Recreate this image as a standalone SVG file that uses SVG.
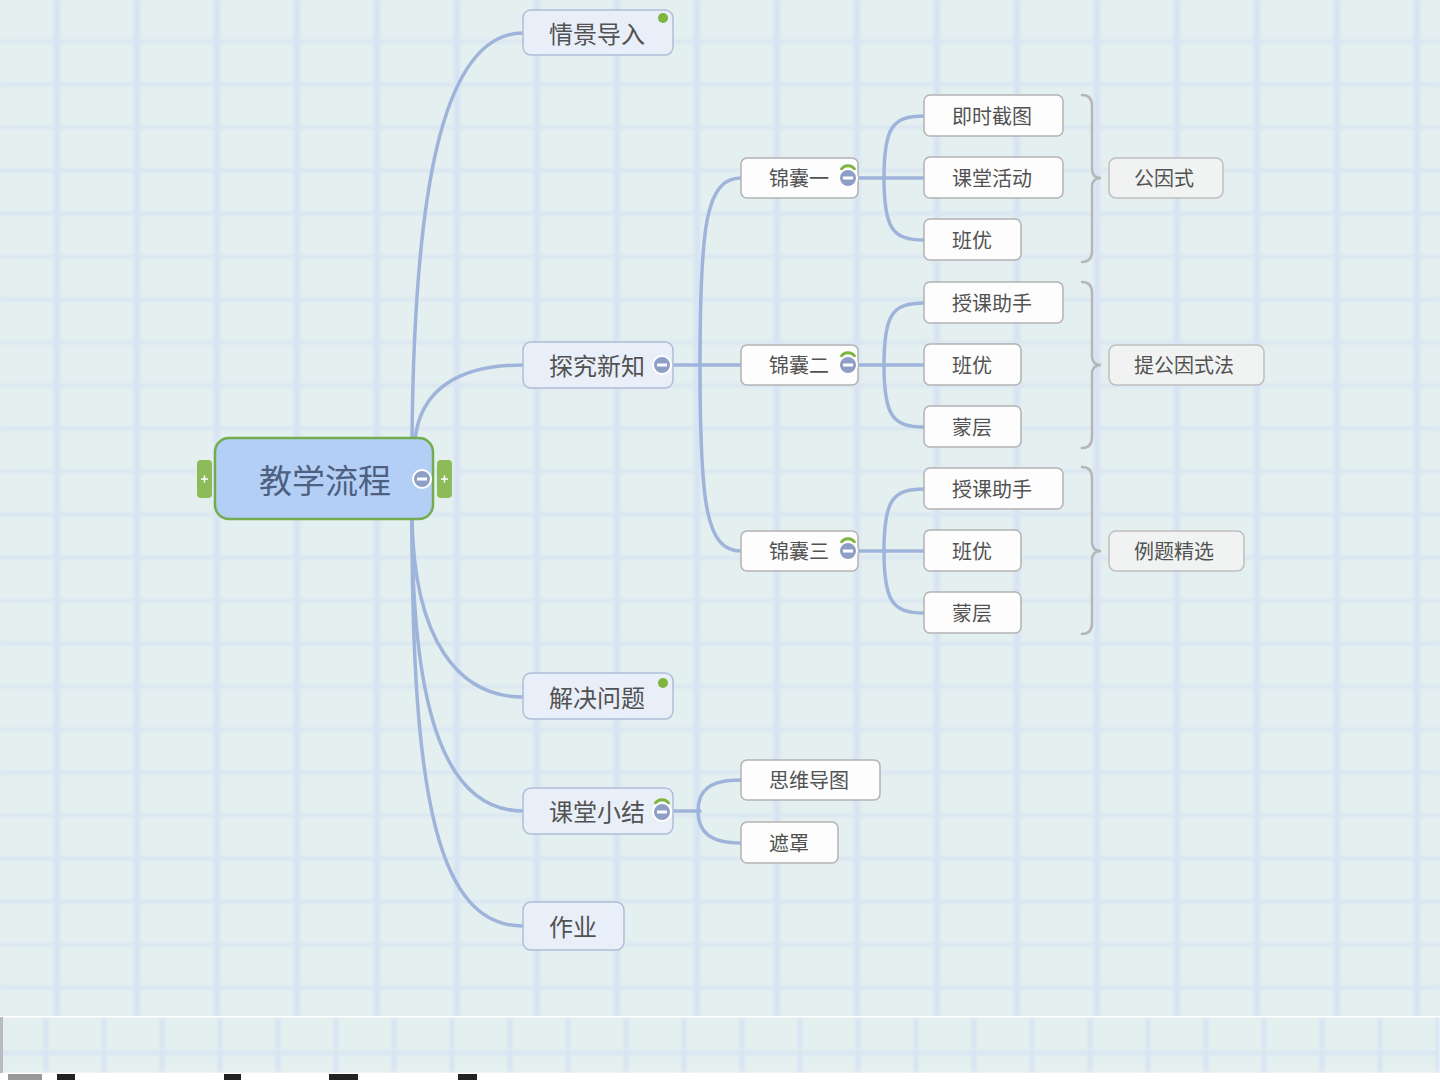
<svg xmlns="http://www.w3.org/2000/svg" width="1440" height="1080" viewBox="0 0 1440 1080">
<style>
.t{font-family:"Noto Sans CJK SC","Noto Sans",sans-serif;fill:#525252;}
.l1 rect{fill:#e9eff9;stroke:#aebdd8;stroke-width:1.5;}
.l2 rect{fill:#fdfdfd;stroke:#b3b3b3;stroke-width:1.5;}
.sm rect{fill:#f1f2f2;stroke:#bfbfbf;stroke-width:1.5;}
.c{fill:none;stroke:#9fb4da;stroke-width:3.5;stroke-linecap:round;}
.br{fill:none;stroke:#b4b6ba;stroke-width:2.5;stroke-linecap:round;}
.dot{fill:#7db53f;}
.arc{fill:none;stroke:#7db53f;stroke-width:3;}
</style>
<defs>
<filter id="soft" x="0" y="0" width="1" height="1"><feGaussianBlur stdDeviation="1.8"/></filter>
<pattern id="grid" x="0" y="0" width="80" height="43" patternUnits="userSpaceOnUse">
<rect width="80" height="43" fill="#e4eff0"/>
<rect x="54" y="0" width="6" height="43" fill="#d5e3f3"/>
<rect x="0" y="40" width="80" height="5" fill="#d8e4f2"/>
</pattern>
<pattern id="grid2" x="0" y="1017" width="58" height="55" patternUnits="userSpaceOnUse">
<rect width="58" height="55" fill="#e4eff0"/>
<rect x="44" y="0" width="4" height="55" fill="#d6e3f4"/>
<rect x="0" y="34" width="58" height="4" fill="#d8e4f2"/>
</pattern>
<g id="minus">
<circle r="9" fill="#8e9fc6" stroke="#ffffff" stroke-width="2"/>
<rect x="-5" y="-1.5" width="10" height="3" fill="#ffffff"/>
</g>
</defs>
<rect width="1440" height="1080" fill="#ffffff"/>
<rect width="1440" height="1016" fill="#e4eff0"/>
<rect width="1440" height="1016" fill="url(#grid)" filter="url(#soft)"/>
<rect y="1017" width="1440" height="56" fill="url(#grid2)" filter="url(#soft)"/>
<rect x="0" y="1017" width="3" height="56" fill="#b9bcbf"/>
<g fill="#222">
<rect x="8" y="1074" width="34" height="6" fill="#999"/>
<rect x="57" y="1074" width="18" height="6"/>
<rect x="224" y="1074" width="17" height="6"/>
<rect x="329" y="1074" width="29" height="6"/>
<rect x="458" y="1074" width="19" height="6"/>
</g>

<g id="connectors">
<path class="c" d="M412 440 C414 200 440 33 523 33"/>
<path class="c" d="M415 440 C420 390 458 365 523 365"/>
<path class="c" d="M412 518 C414 640 458 697 523 697"/>
<path class="c" d="M412 518 C412 720 448 811 523 811"/>
<path class="c" d="M412 518 C412 800 438 926 523 926"/>
<path class="c" d="M673 365 H741"/>
<path class="c" d="M700 365 C700 225 706 178 741 178"/>
<path class="c" d="M700 365 C700 505 706 551 741 551"/>
<path class="c" d="M858 178 H924"/>
<path class="c" d="M884 178 C884 128 892 116 924 116"/>
<path class="c" d="M884 178 C884 228 892 240 924 240"/>
<path class="c" d="M858 365 H924"/>
<path class="c" d="M884 365 C884 315 892 303 924 303"/>
<path class="c" d="M884 365 C884 415 892 427 924 427"/>
<path class="c" d="M858 551 H924"/>
<path class="c" d="M884 551 C884 501 892 489 924 489"/>
<path class="c" d="M884 551 C884 601 892 613 924 613"/>
<path class="c" d="M673 811 H700"/>
<path class="c" d="M698 811 C698 790 710 780 741 780"/>
<path class="c" d="M698 811 C698 832 710 843 741 843"/>
<path class="br" d="M1082 95 Q1092 95 1092 106 V169 Q1092 178 1101 178 Q1092 178 1092 187 V251 Q1092 262 1082 262"/>
<path class="br" d="M1082 282 Q1092 282 1092 293 V356 Q1092 365 1101 365 Q1092 365 1092 374 V437 Q1092 448 1082 448"/>
<path class="br" d="M1082 467 Q1092 467 1092 478 V542 Q1092 551 1101 551 Q1092 551 1092 560 V623 Q1092 634 1082 634"/>
</g>

<g id="root">
<rect x="197" y="460" width="15" height="38" rx="4" fill="#8dbb5a"/>
<path d="M201 479 H208 M204.5 475.5 V482.5" stroke="#fff" stroke-width="1.5"/>
<rect x="437" y="460" width="15" height="38" rx="4" fill="#8dbb5a"/>
<path d="M441 479 H448 M444.5 475.5 V482.5" stroke="#fff" stroke-width="1.5"/>
<rect x="215" y="438" width="218" height="81" rx="14" fill="#b3cff5" stroke="#72ac4f" stroke-width="2.5"/>
<text class="t" x="259" y="493" font-size="33" style="fill:#4e5f80">教学流程</text>
<use href="#minus" x="422" y="479"/>
</g>

<g id="n1" class="l1">
<rect x="523" y="10" width="150" height="45" rx="8"/>
<text class="t" x="549" y="43" font-size="24">情景导入</text>
<circle class="dot" cx="663" cy="18" r="5"/>
</g>
<g id="n2" class="l1">
<rect x="523" y="342" width="150" height="46" rx="8"/>
<text class="t" x="549" y="375" font-size="24">探究新知</text>
<use href="#minus" x="662" y="365"/>
</g>
<g id="n3" class="l1">
<rect x="523" y="673" width="150" height="46" rx="8"/>
<text class="t" x="549" y="707" font-size="24">解决问题</text>
<circle class="dot" cx="663" cy="683" r="5"/>
</g>
<g id="n4" class="l1">
<rect x="523" y="788" width="150" height="46" rx="8"/>
<text class="t" x="549" y="821" font-size="24">课堂小结</text>
<path class="arc" d="M655 804 A8 8 0 0 1 669 804"/>
<use href="#minus" x="662" y="812"/>
</g>
<g id="n5" class="l1">
<rect x="523" y="902" width="101" height="48" rx="8"/>
<text class="t" x="549" y="936" font-size="24">作业</text>
</g>

<g id="k1" class="l2">
<rect x="741" y="158" width="117" height="40" rx="6"/>
<text class="t" x="769" y="186" font-size="20">锦囊一</text>
<path class="arc" d="M841 170 A8 8 0 0 1 855 170"/>
<use href="#minus" x="848" y="178"/>
</g>
<g id="k2" class="l2">
<rect x="741" y="345" width="117" height="40" rx="6"/>
<text class="t" x="769" y="373" font-size="20">锦囊二</text>
<path class="arc" d="M841 357 A8 8 0 0 1 855 357"/>
<use href="#minus" x="848" y="365"/>
</g>
<g id="k3" class="l2">
<rect x="741" y="531" width="117" height="40" rx="6"/>
<text class="t" x="769" y="559" font-size="20">锦囊三</text>
<path class="arc" d="M841 543 A8 8 0 0 1 855 543"/>
<use href="#minus" x="848" y="551"/>
</g>

<g id="a1" class="l2"><rect x="924" y="95" width="139" height="41" rx="6"/><text class="t" x="952" y="124" font-size="20">即时截图</text></g>
<g id="a2" class="l2"><rect x="924" y="157" width="139" height="41" rx="6"/><text class="t" x="952" y="186" font-size="20">课堂活动</text></g>
<g id="a3" class="l2"><rect x="924" y="219" width="97" height="41" rx="6"/><text class="t" x="952" y="248" font-size="20">班优</text></g>
<g id="b1" class="l2"><rect x="924" y="282" width="139" height="41" rx="6"/><text class="t" x="952" y="311" font-size="20">授课助手</text></g>
<g id="b2" class="l2"><rect x="924" y="344" width="97" height="41" rx="6"/><text class="t" x="952" y="373" font-size="20">班优</text></g>
<g id="b3" class="l2"><rect x="924" y="406" width="97" height="41" rx="6"/><text class="t" x="952" y="435" font-size="20">蒙层</text></g>
<g id="c1" class="l2"><rect x="924" y="468" width="139" height="41" rx="6"/><text class="t" x="952" y="497" font-size="20">授课助手</text></g>
<g id="c2" class="l2"><rect x="924" y="530" width="97" height="41" rx="6"/><text class="t" x="952" y="559" font-size="20">班优</text></g>
<g id="c3" class="l2"><rect x="924" y="592" width="97" height="41" rx="6"/><text class="t" x="952" y="621" font-size="20">蒙层</text></g>

<g id="s1" class="sm"><rect x="1109" y="158" width="114" height="40" rx="7"/><text class="t" x="1134" y="186" font-size="20">公因式</text></g>
<g id="s2" class="sm"><rect x="1109" y="345" width="155" height="40" rx="7"/><text class="t" x="1134" y="373" font-size="20">提公因式法</text></g>
<g id="s3" class="sm"><rect x="1109" y="531" width="135" height="40" rx="7"/><text class="t" x="1134" y="559" font-size="20">例题精选</text></g>

<g id="d1" class="l2"><rect x="741" y="760" width="139" height="40" rx="6"/><text class="t" x="769" y="788" font-size="20">思维导图</text></g>
<g id="d2" class="l2"><rect x="741" y="822" width="97" height="41" rx="6"/><text class="t" x="769" y="851" font-size="20">遮罩</text></g>
</svg>
